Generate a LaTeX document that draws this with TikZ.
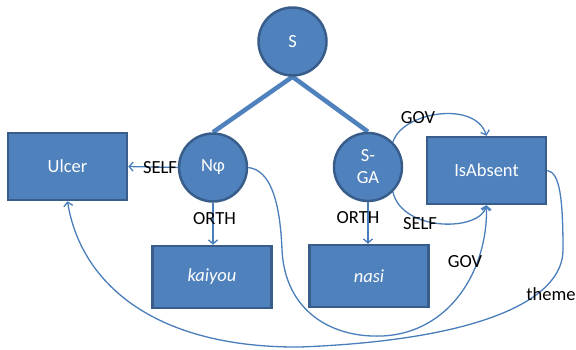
\documentclass[tikz,border=0pt]{standalone}
\usepackage{fontspec}
\setmainfont{Carlito}
\usetikzlibrary{arrows.meta,backgrounds}
\definecolor{fillblue}{HTML}{4F81BD}
\definecolor{edgeblue}{HTML}{385D8A}
\definecolor{linkblue}{HTML}{4A7EBB}
\begin{document}
\begin{tikzpicture}[x=1pt,y=-1pt,
  every node/.style={font=\fontsize{18.5}{20}\selectfont},
  circ/.style={circle,draw=edgeblue,fill=fillblue,line width=2.5pt,minimum size=68pt,inner sep=0pt,text=white,align=center},
  rbox/.style={rectangle,draw=edgeblue,fill=fillblue,line width=2.5pt,minimum width=119pt,minimum height=67pt,inner sep=0pt,text=white},
  wbox/.style={rbox,minimum height=62pt,font=\fontsize{18.5}{20}\selectfont\itshape},
  link/.style={draw=linkblue,line width=1.3pt,-{Straight Barb[length=4pt,width=9pt]}},
  tree/.style={draw=fillblue,line width=4.5pt},
  lab/.style={text=black,inner sep=0pt}]
\useasboundingbox (0,0) rectangle (576,349);
\node[circ] (s) at (292.5,41.5) {S};
\node[circ] (np) at (213,167.5) {Nφ};
\node[circ,font=\fontsize{18.5}{22}\selectfont] (sga) at (368,167) {S-\\GA};
\node[rbox] (ulcer) at (67.5,166.5) {Ulcer};
\node[wbox] (kaiyou) at (212,277) {kaiyou};
\node[wbox] (nasi) at (369,276) {nasi};
\node[rbox] (isabs) at (486.5,170.5) {IsAbsent};
\begin{scope}[on background layer]
\draw[tree] (s.south) -- (np.north);
\draw[tree] (s.south) -- (sga.north);
\end{scope}
\draw[link] (np.west) -- (ulcer.east);
\node[lab] (l1) at (160,168) {SELF};
\draw[link] (np.south) -- (np.south |- kaiyou.north);
\node[lab] (l2) at (214.5,219) {ORTH};
\draw[link] (sga.south) -- (sga.south |- nasi.north);
\node[lab] (l3) at (358,218) {ORTH};
\draw[link] (sga.45) .. controls (402,112) and (475,100) .. (isabs.north);
\node[lab] (l4) at (418,118) {GOV};
\draw[link] (sga.-45) .. controls (402,232) and (480,232) .. (isabs.south);
\node[lab] (l5) at (420,224) {SELF};
\draw[link] (np.east) .. controls (270,170) and (280,200) .. (282,250)
  .. controls (285,310) and (330,338) .. (382,336)
  .. controls (450,333) and (488,270) .. (isabs.south);
\node[lab] (l6) at (465,262) {GOV};
\draw[link] (isabs.east) .. controls (560,172) and (563,200) .. (563,250)
  .. controls (563,300) and (480,340) .. (300,347)
  .. controls (150,348) and (80,280) .. (ulcer.south);
\node[lab] (l7) at (551,294) {theme};
\end{tikzpicture}
\end{document}
